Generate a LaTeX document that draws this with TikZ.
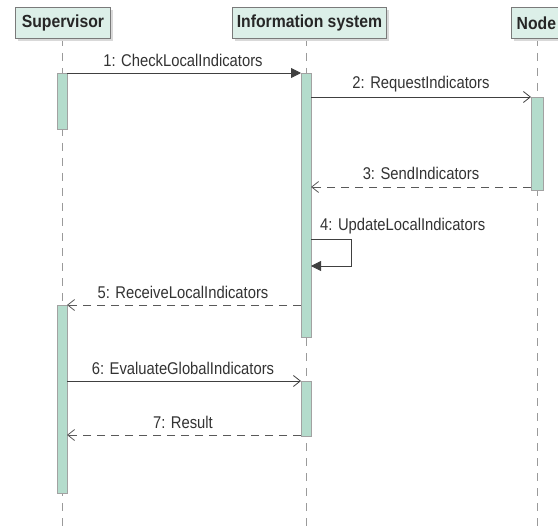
\documentclass[tikz,border=0pt]{standalone}
\usepackage{fontspec}
\setmainfont{Liberation Sans}
\newfontfamily\lblfont[FakeStretch=0.87]{Liberation Sans}
\newfontfamily\headfont[FakeStretch=0.9]{Liberation Sans}
\usetikzlibrary{arrows.meta}
\definecolor{boxfill}{HTML}{DCEFE8}
\definecolor{actfill}{HTML}{B4DCCC}
\definecolor{lineg}{HTML}{7A7A7A}
\definecolor{lifeg}{HTML}{9A9A9A}
\tikzset{
  head/.style={draw=lineg, fill=boxfill, line width=0.8pt, minimum height=31pt, inner xsep=4pt, font=\headfont\fontsize{17.5}{19}\selectfont\bfseries, text=black!85, anchor=north west},
  act/.style={draw=lineg!70, fill=actfill, line width=0.6pt},
  life/.style={draw=lifeg, line width=0.7pt, dash pattern=on 8pt off 7pt},
  msg/.style={draw=black!75, line width=0.8pt},
  ret/.style={draw=black!65, line width=0.8pt, dash pattern=on 8pt off 6pt},
  openarr/.style={-{Straight Barb[length=7pt,width=11pt,line width=0.8pt]}},
  fillarr/.style={-{Triangle[length=10pt,width=10pt]}},
  lbl/.style={font=\lblfont\fontsize{17}{19}\selectfont, text=black!80, inner sep=1pt}
}
\begin{document}
\begin{tikzpicture}[x=1pt,y=-1pt]
\useasboundingbox[fill=white] (0,0) rectangle (558,527);
% lifelines
\coordinate (ls) at (62,38); \coordinate (lse) at (62,527);
\coordinate (li) at (306,38); \coordinate (lie) at (306,527);
\coordinate (ln) at (537,38); \coordinate (lne) at (537,527);
\draw[life] (ls) -- (lse);
\draw[life] (li) -- (lie);
\draw[life] (ln) -- (lne);
% header shadows
\fill[black!15] (18,10) rectangle (113,41);
\fill[black!15] (235,10) rectangle (389,41);
\fill[black!15] (514,10) rectangle (561,41);
% headers
\node[head, minimum width=95pt] (sup) at (15,7) {Supervisor};
\node[head, minimum width=154pt] (inf) at (232,7) {Information system};
\node[head, minimum width=50pt, anchor=north west] (nod) at (511,7) {Node};
% activations
\draw[act] (57,73) rectangle (67,129);
\draw[act] (301,73) rectangle (311,337);
\draw[act] (531,97) rectangle (543,190);
\draw[act] (57,305) rectangle (67,493);
\draw[act] (301,381) rectangle (311,436);
% anchor coordinates
\coordinate (s1) at (67,73); \coordinate (i1) at (301,73);
\coordinate (i2) at (311,97); \coordinate (n2) at (531,97);
\coordinate (n3) at (531,187); \coordinate (i3) at (311,187);
\coordinate (i4a) at (311,239); \coordinate (i4b) at (351,239);
\coordinate (i4c) at (351,266); \coordinate (i4d) at (311,266);
\coordinate (i5) at (301,305); \coordinate (s5) at (67,305);
\coordinate (s6) at (67,381); \coordinate (i6) at (301,381);
\coordinate (i7) at (301,435); \coordinate (s7) at (67,435);
% messages
\draw[msg, fillarr] (s1) -- (i1);
\node[lbl] (m1) at (183,60) {1: CheckLocalIndicators};
\draw[msg, openarr] (i2) -- (n2);
\node[lbl] (m2) at (421,84) {2: RequestIndicators};
\draw[ret, openarr] (n3) -- (i3);
\node[lbl] (m3) at (421,173) {3: SendIndicators};
\draw[msg, fillarr] (i4a) -- (i4b) -- (i4c) -- (i4d);
\node[lbl, anchor=west] (m4) at (319,226) {4: UpdateLocalIndicators};
\draw[ret, openarr] (i5) -- (s5);
\node[lbl] (m5) at (183,292) {5: ReceiveLocalIndicators};
\draw[msg, openarr] (s6) -- (i6);
\node[lbl] (m6) at (183,368) {6: EvaluateGlobalIndicators};
\draw[ret, openarr] (i7) -- (s7);
\node[lbl] (m7) at (183,422) {7: Result};
\end{tikzpicture}
\end{document}
